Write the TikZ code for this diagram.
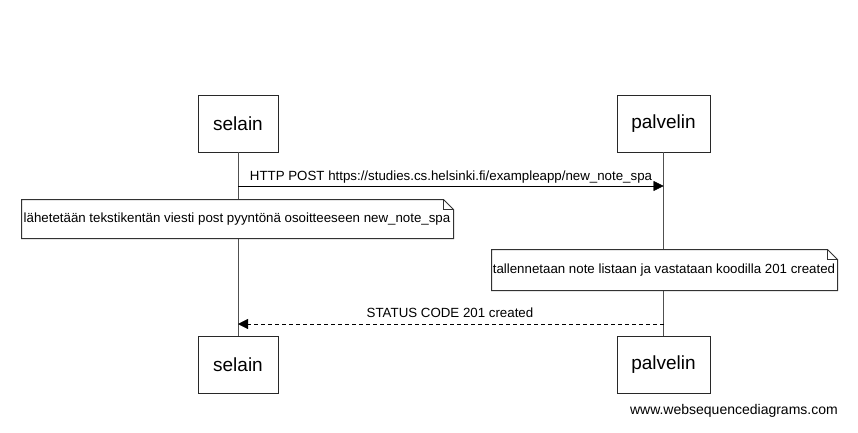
\documentclass[tikz,border=0pt]{standalone}
\usepackage{fontspec}
\setmainfont{Liberation Sans}
\usetikzlibrary{arrows.meta}
\tikzset{
  actor/.style={draw={rgb,255:red,40;green,40;blue,40}, fill=white, inner sep=0pt, minimum height=57pt, font=\fontsize{19}{21}\selectfont},
  lifeline/.style={draw={rgb,255:red,80;green,80;blue,80}},
  msg/.style={draw=black, -{Triangle[length=10pt,width=10pt]}},
  reply/.style={msg, dash pattern={on 4pt off 3pt}},
  notebox/.style={draw={rgb,255:red,50;green,50;blue,50}, fill=white, line width=1pt},
  txt/.style={inner sep=0pt, font=\fontsize{13.3}{15}\selectfont}
}
\begin{document}
\begin{tikzpicture}[x=1pt,y=1pt,yscale=-1,xscale=1]
\useasboundingbox (0,0) rectangle (858,432);

% Actors
\node [actor, minimum width=80pt] (selain1) at (238,123.5) {selain};
\node [actor, minimum width=93pt] (palvelin1) at (663.5,123.5) {palvelin};
\node [actor, minimum width=80pt] (selain2) at (238,365) {selain};
\node [actor, minimum width=93pt] (palvelin2) at (663.5,365) {palvelin};

% Lifelines
\draw [lifeline] (selain1) -- (selain2);
\draw [lifeline] (palvelin1) -- (palvelin2);

% Message rows
\coordinate (row1) at (0,186);
\coordinate (row2) at (0,324);

% Request
\draw [msg] (selain1 |- row1) -- (palvelin1 |- row1);
\node [txt] (post) at (451,177) {HTTP POST https://studies.cs.helsinki.fi/exampleapp/new\_note\_spa};

% Note 1
\draw [notebox] (21.5,199.5) -- (443.5,199.5) -- (453.5,209.5) -- (453.5,238.5) -- (21.5,238.5) -- cycle;
\draw [notebox, fill=none] (443.5,199.5) -- (443.5,209.5) -- (453.5,209.5);
\node [txt] (note1) at (237,219.5) {lähetetään tekstikentän viesti post pyyntönä osoitteeseen new\_note\_spa};

% Note 2
\draw [notebox] (491.5,249.5) -- (827.5,249.5) -- (837.5,259.5) -- (837.5,290.5) -- (491.5,290.5) -- cycle;
\draw [notebox, fill=none] (827.5,249.5) -- (827.5,259.5) -- (837.5,259.5);
\node [txt] (note2) at (664,270.5) {tallennetaan note listaan ja vastataan koodilla 201 created};

% Response
\draw [reply] (palvelin1 |- row2) -- (selain1 |- row2);
\node [txt] (status) at (450,313) {STATUS CODE 201 created};

% Watermark
\node [txt, anchor=east, font=\fontsize{14}{16}\selectfont] (credit) at (838,411) {www.websequencediagrams.com};

\end{tikzpicture}
\end{document}
